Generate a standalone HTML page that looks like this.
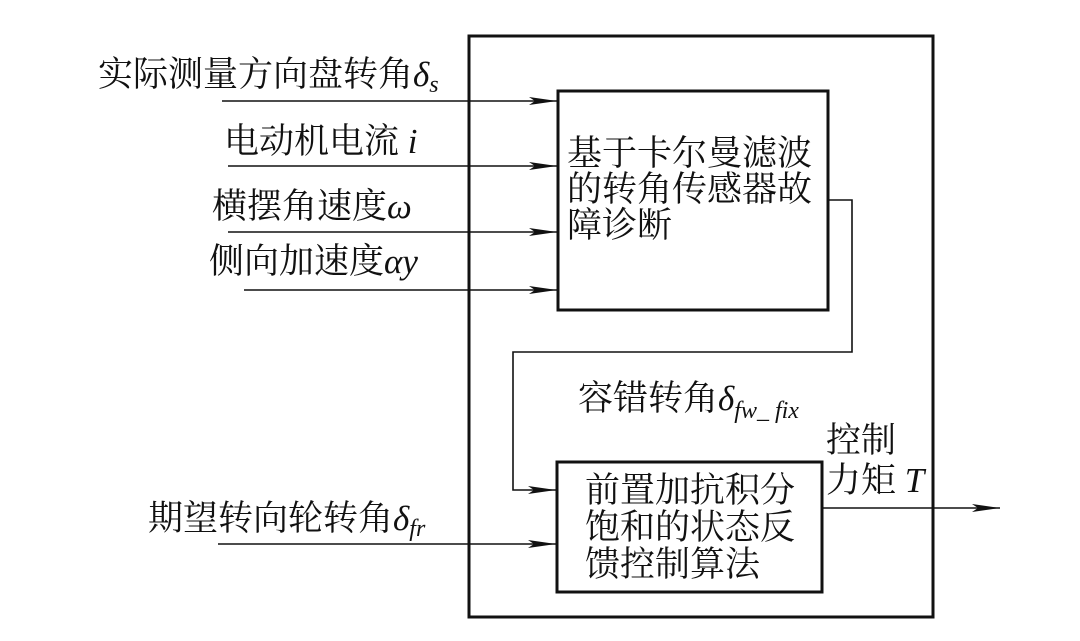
<!DOCTYPE html>
<html><head><meta charset="utf-8"><style>
html,body{margin:0;padding:0;background:#fff;}
svg text{font-family:"Liberation Serif","Noto Serif CJK SC",serif;font-size:35px;fill:#111;}
.i{font-style:italic;}
</style></head><body>
<svg width="1080" height="636" viewBox="0 0 1080 636" xmlns="http://www.w3.org/2000/svg">
<defs><marker id="a" markerWidth="30" markerHeight="10" refX="28" refY="5" orient="auto" markerUnits="userSpaceOnUse"><path d="M0,1 L28,5 L0,9 L6,5 Z" fill="#111"/></marker></defs>
<g fill="none" stroke="#111">
<rect x="469" y="36" width="464" height="581" stroke-width="3"/>
<rect x="558" y="91" width="270" height="219" stroke-width="3"/>
<rect x="557" y="462" width="265" height="130" stroke-width="3"/>
<g stroke-width="1.6">
<line x1="222" y1="101" x2="557" y2="101" marker-end="url(#a)"/>
<line x1="228" y1="166" x2="557" y2="166" marker-end="url(#a)"/>
<line x1="228" y1="232" x2="557" y2="232" marker-end="url(#a)"/>
<line x1="244" y1="290" x2="557" y2="290" marker-end="url(#a)"/>
<line x1="218" y1="544" x2="556" y2="544" marker-end="url(#a)"/>
<polyline points="828,200 852,200 852,352 513,352 513,490 556,490" marker-end="url(#a)"/>
<line x1="822" y1="508" x2="1000" y2="508" marker-end="url(#a)"/>
</g></g>
<text x="98" y="86">实际测量方向盘转角<tspan class="i">δ</tspan><tspan class="i" font-size="24" dy="6">s</tspan></text>
<text x="224" y="153">电动机电流 <tspan class="i">i</tspan></text>
<text x="212" y="218">横摆角速度<tspan class="i">ω</tspan></text>
<text x="209" y="273">侧向加速度<tspan class="i">αy</tspan></text>
<text x="148" y="530">期望转向轮转角<tspan class="i">δ</tspan><tspan class="i" font-size="24" dy="6">fr</tspan></text>
<text x="567" y="165">基于卡尔曼滤波</text>
<text x="567" y="201">的转角传感器故</text>
<text x="567" y="237">障诊断</text>
<text x="578" y="410">容错转角<tspan class="i">δ</tspan><tspan class="i" font-size="24" dy="8">fw_ fix</tspan></text>
<text x="826" y="452">控制</text>
<text x="826" y="492">力矩 <tspan class="i">T</tspan></text>
<text x="585" y="502">前置加抗积分</text>
<text x="585" y="539">饱和的状态反</text>
<text x="585" y="576">馈控制算法</text>
</svg>
</body></html>
